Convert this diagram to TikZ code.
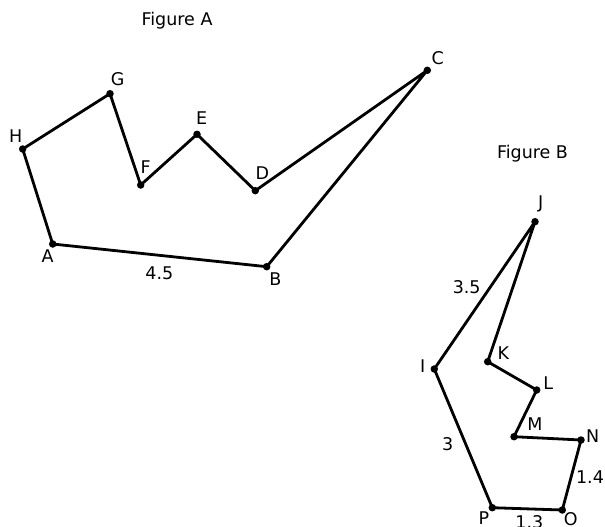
\documentclass[tikz,border=0pt]{standalone}
\usepackage{fontspec}
\setmainfont{DejaVu Sans}
\begin{document}
\begin{tikzpicture}[x=1pt,y=-1pt,
  edge/.style={line width=2.8pt,line join=round},
  pt/.style={circle,fill=black,inner sep=0pt,minimum size=7.5pt},
  lbl/.style={inner sep=0pt,font=\fontsize{17.5}{20}\selectfont}]
\useasboundingbox (0,0) rectangle (605,527);
% Figure A vertices
\node[pt] (A) at (52.7,244) {};
\node[pt] (B) at (266.7,266.7) {};
\node[pt] (C) at (427.3,70.3) {};
\node[pt] (D) at (255.3,190.7) {};
\node[pt] (E) at (197,134.3) {};
\node[pt] (F) at (140.7,185) {};
\node[pt] (G) at (110,93.7) {};
\node[pt] (H) at (22.7,149) {};
\draw[edge] (A.center) -- (B.center) -- (C.center) -- (D.center) -- (E.center) -- (F.center) -- (G.center) -- (H.center) -- cycle;
% Figure B vertices
\node[pt] (I) at (434.3,369) {};
\node[pt] (J) at (535,221.7) {};
\node[pt] (K) at (487.7,361.7) {};
\node[pt] (L) at (536.7,390) {};
\node[pt] (M) at (514,436.7) {};
\node[pt] (N) at (581,440) {};
\node[pt] (O) at (562.3,510) {};
\node[pt] (P) at (492.3,507.7) {};
\draw[edge] (I.center) -- (J.center) -- (K.center) -- (L.center) -- (M.center) -- (N.center) -- (O.center) -- (P.center) -- cycle;
% labels
\node[lbl] (tA) at (177,20.7) {Figure A};
\node[lbl] (tB) at (532.5,154) {Figure B};
\node[lbl] (lA) at (47.7,256) {A};
\node[lbl] (lB) at (275.3,279.3) {B};
\node[lbl] (lC) at (437.7,58) {C};
\node[lbl] (lD) at (262.3,172.7) {D};
\node[lbl] (lE) at (201.7,118) {E};
\node[lbl] (lF) at (145.7,166.7) {F};
\node[lbl] (lG) at (117.7,79) {G};
\node[lbl] (lH) at (15.7,136) {H};
\node[lbl] (l45) at (159.3,273.3) {4.5};
\node[lbl] (lI) at (422.7,365.7) {I};
\node[lbl] (lJ) at (540.7,204) {J};
\node[lbl] (lK) at (503.3,352.7) {K};
\node[lbl] (lL) at (548.3,383.3) {L};
\node[lbl] (lM) at (535,424.3) {M};
\node[lbl] (lN) at (592.7,436) {N};
\node[lbl] (lO) at (570.7,519.3) {O};
\node[lbl] (lP) at (484,518.3) {P};
\node[lbl] (l35) at (466.7,287.3) {3.5};
\node[lbl] (l3) at (447.7,444.3) {3};
\node[lbl] (l14) at (590,476.7) {1.4};
\node[lbl] (l13) at (529.3,521.7) {1.3};
\end{tikzpicture}
\end{document}
